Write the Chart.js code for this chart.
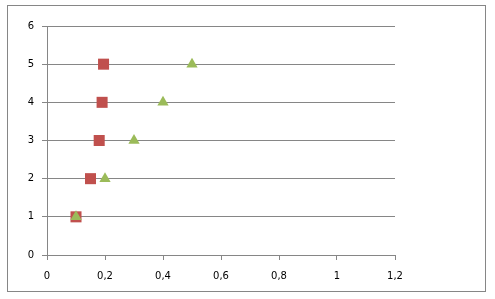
<!DOCTYPE html>
<html>
<head>
<meta charset="utf-8">
<script src="https://cdn.jsdelivr.net/npm/chart.js@4/dist/chart.umd.min.js"></script>
<style>
  html, body { margin: 0; padding: 0; background: #fff; }
  #wrap { position: relative; width: 495px; height: 299px; }
  #frame { position: absolute; left: 7px; top: 5px; width: 479px; height: 287px; border: 1px solid #868686; box-sizing: border-box; }
  canvas { position: absolute; left: 0; top: 0; }
</style>
</head>
<body>
<div id="wrap">
  <div id="frame"></div>
  <canvas id="chart" width="495" height="299"></canvas>
</div>
<script>
// values
const yValues = [1, 2, 3, 4, 5];
const redX = [0.1, 0.15, 0.18, 0.19, 0.195];
const greenX = [0.1, 0.2, 0.3, 0.4, 0.5];

const toPoints = (xs) => xs.map((x, i) => ({ x: x, y: yValues[i] }));
const fmt = (v) => String(Math.round(v * 10) / 10).replace('.', ',');
const gridColor = '#868686';
const font = { family: 'DejaVu Sans', size: 10 };

const ctx = document.getElementById('chart').getContext('2d');
new Chart(ctx, {
  type: 'scatter',
  data: {
    datasets: [
      {
        data: toPoints(greenX),
        pointStyle: 'triangle',
        pointRadius: 6.5,
        backgroundColor: '#9BBB59',
        borderColor: '#9BBB59',
        borderWidth: 0,
        order: 1
      },
      {
        data: toPoints(redX),
        pointStyle: 'rect',
        pointRadius: 7.8,
        backgroundColor: '#C0504D',
        borderColor: '#C0504D',
        borderWidth: 0,
        order: 2
      }
    ]
  },
  options: {
    responsive: false,
    animation: false,
    layout: { padding: { left: 0, right: 100, top: 26, bottom: 0 } },
    plugins: { legend: { display: false }, tooltip: { enabled: false } },
    scales: {
      x: {
        type: 'linear',
        min: 0,
        max: 1.2,
        afterFit: (s) => { s.height = 44; },
        grid: { drawOnChartArea: false, drawTicks: true, tickLength: 5, color: gridColor },
        border: { color: gridColor },
        ticks: { stepSize: 0.2, padding: 10, color: '#000', font: font, callback: (v) => fmt(v) }
      },
      y: {
        min: 0,
        max: 6,
        afterFit: (s) => { s.width = 47; },
        grid: { drawTicks: true, tickLength: 5, color: gridColor },
        border: { color: gridColor },
        ticks: { stepSize: 1, padding: 8, color: '#000', font: font, callback: (v) => fmt(v) }
      }
    }
  }
});
</script>
</body>
</html>
